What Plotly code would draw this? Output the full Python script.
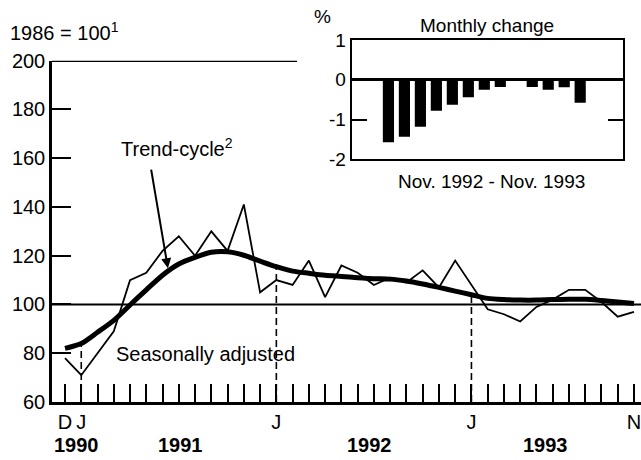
import plotly.graph_objects as go

# ---------------- data ----------------
months = ["Dec 1990",
          "Jan 1991", "Feb 1991", "Mar 1991", "Apr 1991", "May 1991", "Jun 1991",
          "Jul 1991", "Aug 1991", "Sep 1991", "Oct 1991", "Nov 1991", "Dec 1991",
          "Jan 1992", "Feb 1992", "Mar 1992", "Apr 1992", "May 1992", "Jun 1992",
          "Jul 1992", "Aug 1992", "Sep 1992", "Oct 1992", "Nov 1992", "Dec 1992",
          "Jan 1993", "Feb 1993", "Mar 1993", "Apr 1993", "May 1993", "Jun 1993",
          "Jul 1993", "Aug 1993", "Sep 1993", "Oct 1993", "Nov 1993"]

seasonally_adjusted = [78, 71, 80, 89, 110, 113, 122, 128, 120, 130, 122, 141, 105,
                       110, 108, 118, 103, 116, 113, 108, 111, 109, 114, 107, 118,
                       108, 98, 96, 93, 99, 102, 106, 106, 101, 95, 97]

trend_cycle = [82, 84, 88.6, 93.5, 99.8, 106, 112, 116.6, 119.3, 121.4, 121.6, 120.2, 117.8,
               115.5, 113.7, 112.8, 112, 111.5, 111, 110.6, 110.4, 109.6, 108.4, 107, 105.5,
               104, 102.5, 102, 101.8, 101.8, 102, 102.1, 102.1, 101.6, 101, 100.4]

month_tick_text = {"Dec 1990": "D", "Jan 1991": "J", "Jan 1992": "J",
                   "Jan 1993": "J", "Nov 1993": "N"}

year_labels = ["1990", "1991", "1992", "1993"]
year_label_pos = [0.72, 7.13, 18.76, 29.57]

y_ticks = [60, 80, 100, 120, 140, 160, 180, 200]

inset_months = ["Nov 1992", "Dec 1992", "Jan 1993", "Feb 1993", "Mar 1993", "Apr 1993",
                "May 1993", "Jun 1993", "Jul 1993", "Aug 1993", "Sep 1993", "Oct 1993",
                "Nov 1993"]
monthly_change = [-1.57, -1.43, -1.18, -0.78, -0.63, -0.44, -0.25, -0.18, 0.0,
                  -0.18, -0.25, -0.19, -0.58]
inset_ticks = [-2, -1, 0, 1]

FONT = "Liberation Sans, Arial, sans-serif"

fig = go.Figure()

fig.add_trace(go.Scatter(x=months, y=seasonally_adjusted, mode="lines",
                         line=dict(color="black", width=1.8), showlegend=False,
                         hoverinfo="skip"))
fig.add_trace(go.Scatter(x=months, y=trend_cycle, mode="lines",
                         line=dict(color="black", width=5, shape="spline", smoothing=0.8),
                         showlegend=False, hoverinfo="skip"))

fig.add_trace(go.Bar(x=inset_months, y=monthly_change, xaxis="x3", yaxis="y3",
                     marker=dict(color="black", line=dict(width=0)), width=0.7,
                     showlegend=False, hoverinfo="skip"))

# dashed January markers from axis up to the trend
for m, t in zip(months, trend_cycle):
    if m.startswith("Jan"):
        fig.add_shape(type="line", xref="x", yref="y", x0=m, x1=m, y0=60, y1=t,
                      line=dict(color="black", width=1.6, dash="7px,4px"))

# reference line at 100
fig.add_shape(type="line", xref="x domain", yref="y", x0=0, x1=1, y0=100, y1=100,
              line=dict(color="black", width=2))
# partial top border
fig.add_shape(type="line", xref="x domain", yref="y", x0=0, x1=0.416, y0=200, y1=200,
              line=dict(color="black", width=2.5))

fig.update_layout(
    width=641, height=460,
    margin=dict(l=52, r=0, t=20, b=58, autoexpand=False),
    paper_bgcolor="white", plot_bgcolor="white",
    font=dict(family=FONT, size=20, color="black"),
    showlegend=False,
    xaxis=dict(type="category", range=[-0.8, 35.43], domain=[0, 1], automargin=False,
               showline=True, linewidth=3, linecolor="black",
               ticks="inside", ticklen=18, tickwidth=2, tickcolor="black",
               tickmode="array", tickvals=months,
               ticktext=[month_tick_text.get(m, "") for m in months],
               tickfont=dict(size=20), ticklabelstandoff=0,
               showgrid=False, zeroline=False, fixedrange=True),
    yaxis=dict(range=[60, 200], domain=[0, 0.8935], automargin=False,
               showline=True, linewidth=2.5, linecolor="black",
               ticks="inside", ticklen=19, tickwidth=2, tickcolor="black",
               tickmode="array", tickvals=y_ticks,
               tickfont=dict(size=20),
               showgrid=False, zeroline=False),
    yaxis2=dict(range=[60, 200], overlaying="y", side="right", anchor="x",
                automargin=False,
                ticks="inside", ticklen=11, tickwidth=2, tickcolor="black",
                tickmode="array", tickvals=y_ticks, showticklabels=False,
                showline=False, showgrid=False, zeroline=False),
    xaxis3=dict(type="category", domain=[0.5088, 0.970], anchor="y3", automargin=False,
                range=[-2.3, 14.7], showline=True, mirror=True, linewidth=2,
                linecolor="black", ticks="", showticklabels=False,
                showgrid=False, zeroline=False),
    yaxis3=dict(domain=[0.6353, 0.9476], anchor="x3", range=[-2, 1], automargin=False,
                tickmode="array", tickvals=inset_ticks,
                ticktext=[str(v) for v in inset_ticks],
                ticks="inside", ticklen=15, tickwidth=2, tickcolor="black",
                showline=True, mirror="ticks", linewidth=2, linecolor="black",
                zeroline=True, zerolinewidth=3, zerolinecolor="black",
                showgrid=False, tickfont=dict(size=19)),
)

annotations = [
    dict(text="1986 = 100<sup>1</sup>", xref="paper", yref="paper", x=-0.0747, y=0.969,
         xanchor="left", yanchor="middle", showarrow=False, font=dict(size=20)),
    dict(text="Trend-cycle<sup>2</sup>", xref="x", yref="y", x=6.86, y=164.2,
         xanchor="center", yanchor="middle", showarrow=False, font=dict(size=20)),
    dict(text="", xref="x", yref="y", x=6.33, y=114.9, ax=-17, ay=-100,
         axref="pixel", ayref="pixel", showarrow=True, arrowhead=2, arrowsize=1,
         arrowwidth=2, arrowcolor="black"),
    dict(text="Seasonally adjusted", xref="x", yref="y", x=3.01, y=79.6,
         xanchor="left", yanchor="middle", showarrow=False, font=dict(size=20)),
    dict(text="%", xref="paper", yref="paper", x=0.460, y=1.0079,
         xanchor="center", yanchor="middle", showarrow=False, font=dict(size=19)),
    dict(text="Monthly change", xref="paper", yref="paper", x=0.738, y=0.9869,
         xanchor="center", yanchor="middle", showarrow=False, font=dict(size=19)),
    dict(text="Nov. 1992 - Nov. 1993", xref="paper", yref="paper", x=0.7465, y=0.5767,
         xanchor="center", yanchor="middle", showarrow=False, font=dict(size=19)),
]
for lab, pos in zip(year_labels, year_label_pos):
    annotations.append(dict(text="<b>" + lab + "</b>", xref="x", yref="paper", x=pos,
                            y=-0.1126, xanchor="center", yanchor="middle",
                            showarrow=False, font=dict(size=20)))
fig.update_layout(annotations=annotations)

fig.write_html("out.html", config={"displayModeBar": False},
               post_script="document.body.style.margin='0px';")
